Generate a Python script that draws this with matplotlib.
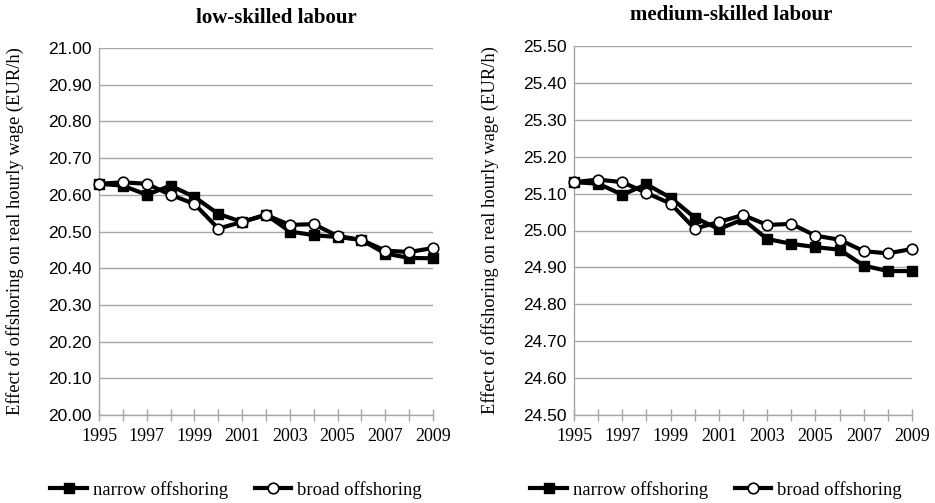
import matplotlib
matplotlib.use("Agg")
import matplotlib.pyplot as plt
from matplotlib.ticker import MultipleLocator, FixedLocator, FormatStrFormatter

years = list(range(1995, 2010))

low_narrow = [20.630, 20.625, 20.600, 20.625, 20.594, 20.548, 20.526, 20.546,
              20.500, 20.490, 20.485, 20.477, 20.440, 20.428, 20.427]
low_broad = [20.630, 20.634, 20.630, 20.600, 20.575, 20.508, 20.526, 20.545,
             20.518, 20.520, 20.488, 20.477, 20.448, 20.444, 20.455]

med_narrow = [25.131, 25.127, 25.097, 25.125, 25.089, 25.035, 25.004, 25.030,
              24.977, 24.964, 24.955, 24.948, 24.905, 24.890, 24.890]
med_broad = [25.131, 25.138, 25.131, 25.102, 25.073, 25.005, 25.023, 25.042,
             25.015, 25.018, 24.986, 24.975, 24.944, 24.938, 24.950]

titles = ["low-skilled labour", "medium-skilled labour"]
ylims = [(20.0, 21.0), (24.5, 25.5)]
series_names = ["narrow offshoring", "broad offshoring"]
ylabel = "Effect of offshoring on real hourly wage (EUR/h)"

serif = "Liberation Serif"
sans = "Liberation Sans"
grid_c = "#a6a6a6"

W, H = 935, 503
fig = plt.figure(figsize=(W / 100, H / 100), dpi=100)

# axes rectangles in pixels: left, top, right, bottom
rects = [(99, 48, 433, 415), (574, 46, 912, 415)]
legend_centers = [(236, 490), (716, 490)]
title_centers = [(276, 18), (731, 15)]

data = [(low_narrow, low_broad), (med_narrow, med_broad)]

for i in range(2):
    l, t, r, b = rects[i]
    ax = fig.add_axes([l / W, 1 - b / H, (r - l) / W, (b - t) / H])
    narrow, broad = data[i]
    ax.plot(years, narrow, color="black", lw=3, marker="s", ms=6.7,
            mfc="black", mec="black", label=series_names[0], zorder=3,
            clip_on=False)
    ax.plot(years, broad, color="black", lw=3, marker="o", ms=7.6,
            mfc="white", mec="black", mew=1.2, label=series_names[1], zorder=4,
            clip_on=False)
    ax.set_xlim(1995, 2009)
    ax.set_ylim(*ylims[i])
    ax.yaxis.set_major_locator(MultipleLocator(0.1))
    ax.yaxis.set_major_formatter(FormatStrFormatter("%.2f"))
    ax.xaxis.set_major_locator(FixedLocator(list(range(1995, 2010, 2))))
    ax.xaxis.set_minor_locator(FixedLocator(list(range(1996, 2010, 2))))
    ax.grid(axis="y", color=grid_c, lw=1)
    ax.set_axisbelow(True)
    for s in ["top", "right"]:
        ax.spines[s].set_visible(False)
    for s in ["left", "bottom"]:
        ax.spines[s].set_color(grid_c)
        ax.spines[s].set_linewidth(1)
    ax.tick_params(axis="y", length=0, pad=5.5, labelsize=12.5,
                   labelfontfamily=sans)
    ax.tick_params(axis="x", which="both", direction="inout", length=8,
                   color=grid_c, width=1, labelsize=13, pad=5.5,
                   labelfontfamily=serif)
    ax.set_ylabel(ylabel, fontfamily=serif, fontsize=13.3)
    ax.yaxis.set_label_coords(-75 / (r - l), 0.5)
    tx, ty = title_centers[i]
    fig.text(tx / W, 1 - ty / H, titles[i], fontfamily=serif, fontsize=15,
             fontweight="bold", ha="center", va="center")
    lx, ly = legend_centers[i]
    fig.legend(*ax.get_legend_handles_labels(), loc="center",
               bbox_to_anchor=(lx / W, 1 - ly / H), ncol=2, frameon=False,
               prop={"family": serif, "size": 13.4}, handlelength=1.95,
               handletextpad=0.32, columnspacing=1.45, borderaxespad=0)

fig.savefig("out.png", dpi=100)
